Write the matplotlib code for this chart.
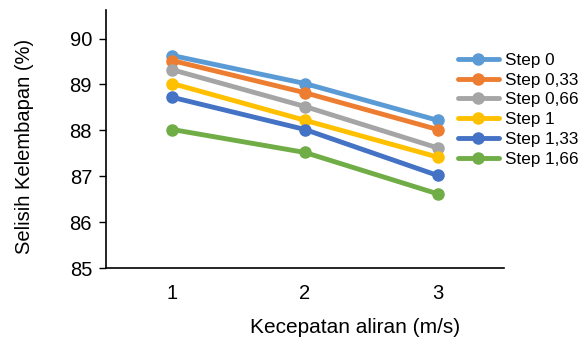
import matplotlib
matplotlib.use("Agg")
import matplotlib.pyplot as plt

plt.rcParams['font.family'] = ['Liberation Sans', 'DejaVu Sans']

speeds = [1, 2, 3]
series_names = ["Step 0", "Step 0,33", "Step 0,66", "Step 1", "Step 1,33", "Step 1,66"]
step_0 = [89.63, 89.02, 88.22]
step_033 = [89.52, 88.82, 88.02]
step_066 = [89.32, 88.52, 87.62]
step_1 = [89.02, 88.22, 87.42]
step_133 = [88.72, 88.02, 87.02]
step_166 = [88.02, 87.52, 86.62]
colors = ["#5B9BD5", "#ED7D31", "#A5A5A5", "#FFC000", "#4472C4", "#70AD47"]
yticks = [85, 86, 87, 88, 89, 90]

fig = plt.figure(figsize=(5.87, 3.43), dpi=100)
ax = fig.add_axes([0.1806, 0.2178, 0.678, 0.753])

for name, vals, c in zip(series_names, [step_0, step_033, step_066, step_1, step_133, step_166], colors):
    ax.plot(speeds, vals, color=c, lw=3.5, marker='o', markersize=8, label=name,
            solid_capstyle='round')

ax.set_xlim(0.5, 3.5)
ax.set_ylim(85, 90.62)
ax.set_xticks(speeds)
ax.set_yticks(yticks)
ax.spines['top'].set_visible(False)
ax.spines['right'].set_visible(False)
for s in ['left', 'bottom']:
    ax.spines[s].set_color('black')
    ax.spines[s].set_linewidth(1.2)
ax.tick_params(axis='y', length=5, width=1, labelsize=14.5, pad=5, color='black')
ax.tick_params(axis='x', length=0, labelsize=14.5, pad=11)

fig.text(0.605, 0.045, "Kecepatan aliran (m/s)", ha='center', va='center', fontsize=15)
fig.text(0.041, 0.574, "Selisih Kelembapan (%)", ha='center', va='center', rotation=90, fontsize=14.5)

leg = fig.legend(loc='upper left', bbox_to_anchor=(0.768, 0.866), frameon=False,
                 fontsize=12.3, handlelength=2.4, labelspacing=0.28, handletextpad=0.35,
                 borderaxespad=0)

fig.savefig("out.png", dpi=100)
